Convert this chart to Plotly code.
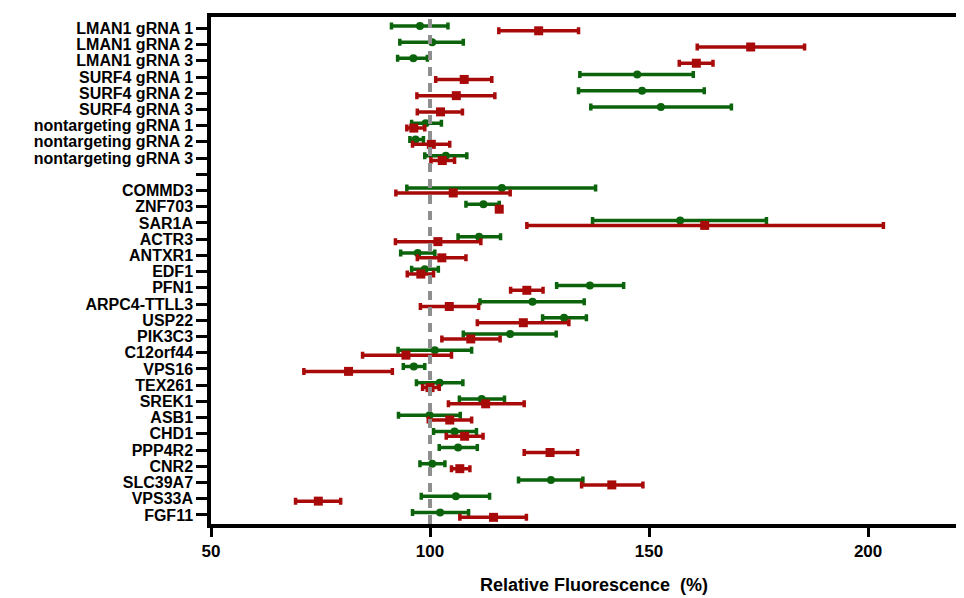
import plotly.graph_objects as go

categories = [
    "LMAN1 gRNA 1", "LMAN1 gRNA 2", "LMAN1 gRNA 3",
    "SURF4 gRNA 1", "SURF4 gRNA 2", "SURF4 gRNA 3",
    "nontargeting gRNA 1", "nontargeting gRNA 2", "nontargeting gRNA 3",
    "",
    "COMMD3", "ZNF703", "SAR1A", "ACTR3", "ANTXR1", "EDF1", "PFN1",
    "ARPC4-TTLL3", "USP22", "PIK3C3", "C12orf44", "VPS16", "TEX261",
    "SREK1", "ASB1", "CHD1", "PPP4R2", "CNR2", "SLC39A7", "VPS33A", "FGF11",
]

green_mean = [97.7, 100.5, 96.2, 147.3, 148.4, 152.7, 99.0, 96.7, 103.6, None,
              116.4, 112.2, 157.1, 111.2, 97.2, 98.8, 136.5, 123.4, 130.6, 118.3,
              101.1, 96.3, 102.2, 111.8, 99.9, 105.6, 106.4, 100.5, 127.6, 105.9, 102.3]
green_low = [91.2, 93.1, 92.6, 134.2, 133.9, 136.7, 95.8, 95.4, 98.8, None,
             94.7, 108.2, 137.1, 106.4, 93.3, 95.8, 128.9, 111.4, 125.7, 107.6,
             92.7, 93.9, 96.9, 106.7, 92.8, 100.8, 102.1, 97.7, 120.2, 98.0, 96.0]
green_high = [104.1, 107.6, 99.4, 160.1, 162.6, 168.8, 102.6, 98.5, 108.4, None,
              137.8, 115.8, 176.8, 116.1, 101.1, 101.9, 144.2, 135.2, 135.7, 128.8,
              109.5, 98.8, 107.5, 117.0, 106.9, 110.6, 110.8, 103.4, 134.9, 113.6, 108.8]

red_mean = [124.8, 173.2, 160.8, 107.8, 106.0, 102.4, 96.3, 100.3, 102.8, None,
            105.3, 115.8, 162.7, 101.8, 102.7, 97.9, 122.1, 104.4, 121.3, 109.3,
            94.5, 81.4, 100.0, 112.7, 104.5, 107.9, 127.4, 106.8, 141.5, 74.5, 114.5]
red_low = [115.7, 161.0, 156.9, 101.3, 97.0, 97.1, 94.7, 96.0, 100.2, None,
           92.2, 115.5, 122.1, 92.1, 97.1, 94.8, 118.4, 97.8, 110.8, 102.7,
           84.6, 71.2, 98.3, 104.2, 99.6, 103.7, 121.5, 104.9, 134.6, 69.3, 106.8]
red_high = [133.9, 185.5, 164.6, 114.1, 114.8, 107.4, 98.8, 104.5, 105.6, None,
            118.3, 116.1, 203.5, 111.6, 108.2, 100.8, 125.8, 111.1, 131.7, 116.0,
            104.9, 91.4, 102.1, 121.5, 109.5, 112.1, 133.7, 109.1, 148.6, 79.6, 122.0]

x_ticks = [50, 100, 150, 200]
reference_value = 100

GREEN = "#0b640b"
RED = "#a80a0a"


def plus(m, h):
    return [None if m_ is None else h_ - m_ for m_, h_ in zip(m, h)]


def minus(m, l):
    return [None if m_ is None else m_ - l_ for m_, l_ in zip(m, l)]


idx = list(range(len(categories)))
offset = 0.15

fig = go.Figure()
fig.add_trace(go.Scatter(
    x=green_mean, y=[i - offset for i in idx], mode="markers",
    marker=dict(symbol="circle", size=8, color=GREEN),
    error_x=dict(type="data", symmetric=False,
                 array=plus(green_mean, green_high),
                 arrayminus=minus(green_mean, green_low),
                 color=GREEN, thickness=3.5, width=3.5),
    name="green", showlegend=False,
))
fig.add_trace(go.Scatter(
    x=red_mean, y=[i + offset for i in idx], mode="markers",
    marker=dict(symbol="square", size=9, color=RED),
    error_x=dict(type="data", symmetric=False,
                 array=plus(red_mean, red_high),
                 arrayminus=minus(red_mean, red_low),
                 color=RED, thickness=3.5, width=3.5),
    name="red", showlegend=False,
))

fig.add_shape(type="line", xref="x", yref="paper",
              x0=reference_value, x1=reference_value, y0=0, y1=1,
              line=dict(color="#8e8e8e", width=4, dash="9px,7px"),
              layer="above")

label_font = dict(family="Liberation Sans, Arial, sans-serif", size=16,
                  color="black", weight="bold")

fig.add_annotation(text="Relative Fluorescence  (%)", xref="paper", yref="paper",
                   x=0.509, y=-0.121, xanchor="center", yanchor="middle",
                   showarrow=False,
                   font=dict(family="Liberation Sans, Arial, sans-serif",
                             size=18, color="black", weight="bold"))

# the page body adds an 8px margin, so the figure is sized to fit the window
fig.update_layout(
    width=956, height=590,
    margin=dict(l=203, r=0, t=9, b=74, autoexpand=False),
    paper_bgcolor="white", plot_bgcolor="white",
    showlegend=False,
    xaxis=dict(range=[50, 221.9], tickvals=x_ticks, automargin=False,
               ticks="outside", ticklen=9, tickwidth=3, tickcolor="black",
               showline=True, linewidth=3.5, linecolor="black", mirror=True,
               showgrid=False, zeroline=False,
               tickfont=dict(family="Liberation Sans, Arial, sans-serif",
                             size=17, color="black", weight="bold")),
    yaxis=dict(range=[30.56, -0.70], tickvals=idx, ticktext=categories,
               automargin=False,
               ticks="outside", ticklen=11, tickwidth=3, tickcolor="black",
               showline=True, linewidth=3.5, linecolor="black", mirror=False,
               showgrid=False, zeroline=False,
               tickfont=label_font),
)

fig.write_html("out.html")
